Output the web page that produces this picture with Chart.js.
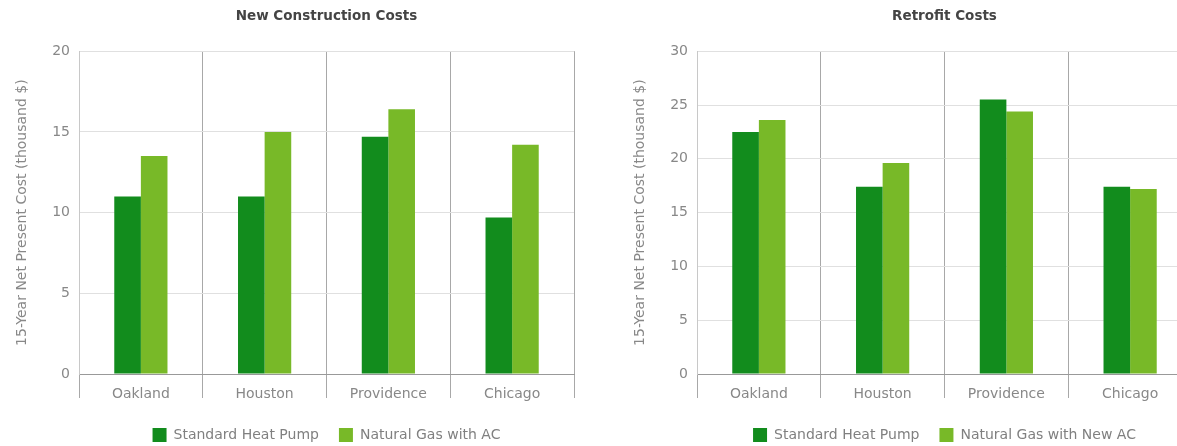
<!DOCTYPE html>
<html>
<head>
<meta charset="utf-8">
<script src="https://cdn.jsdelivr.net/npm/chart.js@4/dist/chart.umd.min.js"></script>
<style>
  html, body { margin: 0; padding: 0; background: #fff; }
  body { width: 1177px; height: 446px; overflow: hidden; position: relative; }
  .panel { position: absolute; top: 0; width: 590px; height: 446px; }
  #left { left: 0; }
  #right { left: 618px; }
</style>
</head>
<body>
<div class="panel" id="left"><canvas id="newChart"></canvas></div>
<div class="panel" id="right"><canvas id="retroChart"></canvas></div>
<script>
const cities = ["Oakland", "Houston", "Providence", "Chicago"];

// New construction, thousand $
const newHeatPump = [11.0, 11.0, 14.7, 9.7];
const newGasAC = [13.5, 15.0, 16.4, 14.2];

// Retrofit, thousand $
const retroHeatPump = [22.5, 17.4, 25.5, 17.4];
const retroGasNewAC = [23.6, 19.6, 24.4, 17.2];

const darkGreen = "#128c1d";
const lightGreen = "#78b928";
const fontFamily = "'DejaVu Sans', sans-serif";

function makeChart(id, title, labelA, dataA, labelB, dataB, yMax, yStep) {
  return new Chart(document.getElementById(id), {
    type: "bar",
    data: {
      labels: cities,
      datasets: [
        { label: labelA, data: dataA, backgroundColor: darkGreen },
        { label: labelB, data: dataB, backgroundColor: lightGreen }
      ]
    },
    options: {
      responsive: false,
      animation: false,
      maintainAspectRatio: false,
      layout: { padding: { left: 0, right: 16, top: 0, bottom: -6 } },
      datasets: { bar: { categoryPercentage: 0.43, barPercentage: 1.0 } },
      plugins: {
        title: {
          display: true,
          text: title,
          fullSize: false,
          color: "#444",
          font: { family: fontFamily, size: 13.5, weight: "bold" },
          padding: { top: 8, bottom: 27 }
        },
        legend: {
          position: "bottom",
          fullSize: false,
          labels: {
            color: "#808080",
            boxWidth: 14,
            boxHeight: 14,
            padding: 20,
            font: { family: fontFamily, size: 14 }
          }
        },
        tooltip: { enabled: false }
      },
      scales: {
        x: {
          afterFit: (axis) => { axis.height = 34; },
          grid: {
            offset: true,
            color: "#a8a8a8",
            tickColor: "#a8a8a8",
            tickLength: 24
          },
          border: { color: "#999" },
          ticks: {
            color: "#888",
            padding: -12,
            font: { family: fontFamily, size: 14 }
          }
        },
        y: {
          min: 0,
          max: yMax,
          afterFit: (axis) => { axis.width = 79; },
          grid: {
            drawTicks: false,
            color: (ctx) => ctx.tick && ctx.tick.value === 0 ? "#999" : "#e0e0e0"
          },
          border: { color: "#c8c8c8" },
          ticks: {
            stepSize: yStep,
            padding: 9,
            color: "#888",
            font: { family: fontFamily, size: 14 }
          },
          title: {
            display: true,
            text: "15-Year Net Present Cost (thousand $)",
            color: "#888",
            padding: { top: 14, bottom: 0 },
            font: { family: fontFamily, size: 14 }
          }
        }
      }
    }
  });
}

// canvases sized explicitly so both panels share one layout
for (const id of ["newChart", "retroChart"]) {
  const c = document.getElementById(id);
  c.width = 590;
  c.height = 446;
}

makeChart("newChart", "New Construction Costs",
  "Standard Heat Pump", newHeatPump, "Natural Gas with AC", newGasAC, 20, 5);
makeChart("retroChart", "Retrofit Costs",
  "Standard Heat Pump", retroHeatPump, "Natural Gas with New AC", retroGasNewAC, 30, 5);
</script>
</body>
</html>
